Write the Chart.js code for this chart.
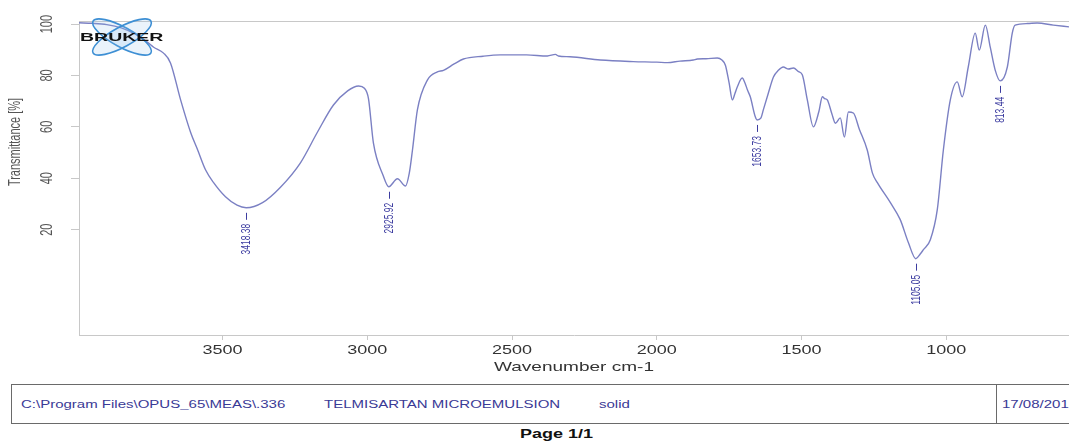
<!DOCTYPE html>
<html>
<head>
<meta charset="utf-8">
<title>TELMISARTAN MICROEMULSION - FTIR</title>
<script src="https://cdn.jsdelivr.net/npm/chart.js@4.4.1/dist/chart.umd.min.js"></script>
<style>
    body { margin: 0; background: #fff; overflow: hidden; width: 1069px; height: 446px; position: relative; }
    #spectrum { position: absolute; left: 0; top: 0; }
    #footer { position: absolute; left: 11px; top: 384px; width: 1100px; height: 40px; border: 1.5px solid #6a6a6a; border-right: none; box-sizing: border-box; }
    #footer .divider { position: absolute; left: 984px; top: 0; bottom: 0; border-left: 1.5px solid #6a6a6a; }
    .ft { position: absolute; top: 50%; transform-origin: left center; transform: translateY(-50%) scaleX(1.5); font: 10px 'Liberation Sans', Arial, sans-serif; color: #3a3a96; white-space: nowrap; }
    #page { position: absolute; left: 520px; top: 427px; transform-origin: left top; transform: scaleX(1.5); font: bold 12px 'Liberation Sans', Arial, sans-serif; color: #111; }
</style>
</head>
<body>
<canvas id="spectrum" width="1069" height="380"></canvas>
<div id="footer">
    <span class="ft" style="left:9px">C:\Program Files\OPUS_65\MEAS\.336</span>
    <span class="ft" style="left:312px">TELMISARTAN MICROEMULSION</span>
    <span class="ft" style="left:587px">solid</span>
    <div class="divider"></div>
    <span class="ft" style="left:990px">17/08/201</span>
</div>
<div id="page">Page 1/1</div>

<script>
// spectrum (cm-1 / %T)
const wavenumbers = [
    3996, 3950, 3900, 3850, 3800, 3760, 3738, 3704, 3680, 3645, 3610, 3586, 3559, 3531, 3490, 3450,
    3418.38, 3362, 3300, 3231, 3172, 3117, 3068, 3030, 3010, 2996, 2979, 2945, 2925.92, 2896, 2868,
    2855, 2844, 2827, 2792, 2758, 2737, 2700, 2668, 2600, 2540, 2450, 2378, 2350, 2340, 2300, 2195,
    2081, 2000, 1963, 1920, 1874, 1860, 1830, 1791, 1775, 1763, 1750, 1739, 1730, 1722, 1705, 1695,
    1687, 1677, 1660, 1653.73, 1640, 1632, 1615, 1597, 1580, 1563, 1545, 1528, 1510, 1497, 1480,
    1459, 1440, 1428, 1420, 1411, 1395, 1383, 1366, 1352, 1338, 1321, 1300, 1273, 1255, 1238, 1193,
    1159, 1131, 1105.05, 1090, 1079, 1055, 1031, 1010, 986, 962, 945, 924, 900, 886, 865, 848, 831,
    813.44, 789, 772, 762, 720, 686, 630, 576
];
const transmittance = [
    100.5, 100.3, 99.8, 98.5, 96, 93, 91, 88.7, 84.9, 70.5, 57.7, 51, 43.3, 38.3, 32.8, 29.5,
    28.5, 30.5, 36.5, 46, 58, 68.5, 74, 75.9, 75, 71, 53.8, 41, 36.7, 39.8, 37,
    42, 51, 66.6, 78.3, 81.4, 82, 84.5, 86.4, 87.5, 88, 88, 87.6, 88.2, 87.6, 87.3, 86,
    85.4, 85.2, 85, 85.6, 86, 86.4, 86.5, 86.8, 86, 84, 77, 70.5, 73, 75.5, 79, 77,
    74.4, 71.7, 64, 62.7, 63.5, 66.6, 73, 79.4, 82, 83.3, 82.5, 82.9, 81.5, 80.2, 70.5,
    60, 66, 71.7, 71, 70.5, 65, 61.4, 63.5, 56, 65.8, 65.4, 59, 51, 42, 38.3, 30.5,
    23.9, 15, 8.7, 10.5, 12.2, 16.1, 27.8, 51, 70.5, 77.5, 71.7, 83.3, 96.5, 89.9, 99.6, 91, 82.1,
    77.9, 83.3, 96.5, 99.6, 100.2, 100.4, 99.6, 98.9
];

// marked peaks
const peakWavenumbers = [3418.38, 2925.92, 1653.73, 1105.05, 813.44];
const peakTransmittance = [28.5, 36.7, 62.7, 8.7, 77.9];

const xTickValues = [3500, 3000, 2500, 2000, 1500, 1000];
const yTickValues = [100, 80, 60, 40, 20];
const xTitle = 'Wavenumber cm-1';
const yTitle = 'Transmittance [%]';

const lineColor = '#7b80c3';
const peakColor = '#3c3ca0';
const axisColor = '#c8c8c8';
const textFont = "'Liberation Sans', Arial, sans-serif";
const stretch = 1.5; // the scan is wider than tall, text too

function hText(ctx, text, x, y, size, color, align) {
    ctx.save();
    ctx.translate(x, y);
    ctx.scale(stretch, 1);
    ctx.font = size + 'px ' + textFont;
    ctx.fillStyle = color;
    ctx.textAlign = align;
    ctx.textBaseline = 'middle';
    ctx.fillText(text, 0, 0);
    ctx.restore();
}

function vText(ctx, text, x, y, size, color, align) {
    ctx.save();
    ctx.translate(x, y);
    ctx.rotate(-Math.PI / 2);
    ctx.scale(1, stretch);
    ctx.font = size + 'px ' + textFont;
    ctx.fillStyle = color;
    ctx.textAlign = align;
    ctx.textBaseline = 'middle';
    ctx.fillText(text, 0, 0);
    ctx.restore();
}

const opusPlugin = {
    id: 'opus',
    beforeDatasetsDraw(chart) {
        const {ctx, chartArea} = chart;
        // top frame line
        ctx.save();
        ctx.strokeStyle = axisColor;
        ctx.lineWidth = 1;
        ctx.beginPath();
        ctx.moveTo(chartArea.left, chartArea.top + 0.5);
        ctx.lineTo(chartArea.right, chartArea.top + 0.5);
        ctx.stroke();
        ctx.restore();
    },
    afterDatasetsDraw(chart) {
        const {ctx, chartArea, scales} = chart;
        const x = scales.x, y = scales.y;

        // tick labels + titles
        xTickValues.forEach(v => hText(ctx, String(v), x.getPixelForValue(v), chartArea.bottom + 16, 12, '#333', 'center'));
        yTickValues.forEach(v => vText(ctx, String(v), chartArea.left - 32, y.getPixelForValue(v), 11, '#555', 'center'));
        hText(ctx, xTitle, (chartArea.left + chartArea.right) / 2, chartArea.bottom + 32, 12.7, '#333', 'center');
        vText(ctx, yTitle, 15, 142, 11, '#555', 'center');

        // peak marks
        peakWavenumbers.forEach((w, i) => {
            const px = Math.round(x.getPixelForValue(w)) + 0.5;
            const py = y.getPixelForValue(peakTransmittance[i]);
            ctx.save();
            ctx.strokeStyle = peakColor;
            ctx.lineWidth = 1;
            ctx.beginPath();
            ctx.moveTo(px, py + 5);
            ctx.lineTo(px, py + 12);
            ctx.stroke();
            ctx.restore();
            vText(ctx, w.toFixed(2), px, py + 16, 8.5, peakColor, 'right');
        });

        // BRUKER logo
        const cx = chartArea.left + 43, cy = chartArea.top + 16;
        ctx.save();
        ctx.strokeStyle = '#3d8fd4';
        ctx.fillStyle = 'rgba(140,190,235,0.18)';
        ctx.lineWidth = 1.6;
        [0.5, -0.5].forEach(a => {
            ctx.beginPath();
            ctx.ellipse(cx, cy, 33, 10, a, 0, Math.PI * 2);
            ctx.fill();
            ctx.stroke();
        });
        ctx.restore();
        ctx.save();
        ctx.translate(chartArea.left + 1, cy + 1);
        ctx.scale(1.95, 1);
        ctx.font = 'bold 10px ' + textFont;
        ctx.fillStyle = '#111';
        ctx.textBaseline = 'middle';
        ctx.fillText('BRUKER', 0, 0);
        ctx.restore();
    }
};

const ctx = document.getElementById('spectrum').getContext('2d');
new Chart(ctx, {
    type: 'line',
    data: {
        datasets: [{
            label: 'TELMISARTAN MICROEMULSION',
            data: wavenumbers.map((w, i) => ({x: w, y: transmittance[i]})),
            borderColor: lineColor,
            borderWidth: 1.4,
            pointRadius: 0,
            cubicInterpolationMode: 'monotone',
            fill: false,
        }],
    },
    options: {
        responsive: false,
        animation: false,
        layout: {padding: {top: 21, right: 0, bottom: 0, left: 0}},
        plugins: {
            legend: {display: false},
            tooltip: {enabled: false},
        },
        scales: {
            x: {
                type: 'linear',
                reverse: true,
                min: 576,
                max: 3996,
                afterBuildTicks: s => { s.ticks = xTickValues.map(v => ({value: v})); },
                afterFit: s => { s.height = 45; },
                ticks: {display: false},
                grid: {drawOnChartArea: false, tickLength: 5, color: axisColor},
                border: {color: axisColor},
            },
            y: {
                min: -21,
                max: 101.2,
                afterBuildTicks: s => { s.ticks = yTickValues.map(v => ({value: v})); },
                afterFit: s => { s.width = 79; },
                ticks: {display: false},
                grid: {drawOnChartArea: false, tickLength: 8, color: axisColor},
                border: {color: axisColor},
            },
        },
    },
    plugins: [opusPlugin],
});
</script>
</body>
</html>
